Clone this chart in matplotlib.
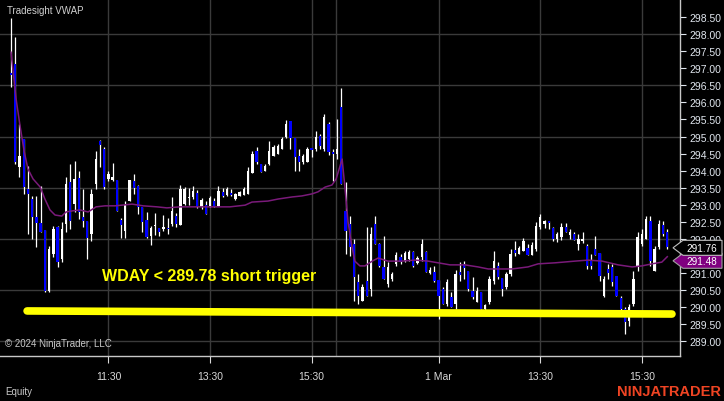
import numpy as np
import pandas as pd
import matplotlib
matplotlib.use('Agg')
import matplotlib.pyplot as plt
from matplotlib.patches import Polygon
from matplotlib.transforms import blended_transform_factory

# Velas de 5 minutos de WDAY, dos sesiones (29 Feb y 1 Mar)
dia1 = pd.date_range('2024-02-29 09:35', '2024-02-29 16:00', freq='5min')
dia2 = pd.date_range('2024-03-01 09:35', '2024-03-01 16:00', freq='5min')
tiempos = dia1.append(dia2)

apertura_d1 = [296.86, 297.12, 294.11, 294.92, 293.46, 293.17, 292.64, 292.47, 292.26, 290.47,
               291.56, 292.35, 291.41, 292.44, 293.67, 293.02, 293.79, 292.64, 292.53, 292.14,
               293.61, 294.86, 294.63, 293.76, 293.73, 293.73, 292.56, 292.23, 293.11, 293.70,
               293.55, 292.94, 292.56, 292.09, 292.38, 292.32, 292.29, 292.32, 292.44, 292.67,
               292.41, 293.02, 293.20, 293.23, 293.35, 292.94, 292.99, 292.97, 293.11, 292.97,
               293.38, 293.29, 293.35, 293.17, 293.26, 293.29, 293.32, 293.93, 294.57, 294.20,
               293.99, 294.20, 294.43, 294.49, 294.63, 294.98, 295.45, 294.95, 294.43, 294.25,
               294.25, 294.66, 294.63, 295.01, 294.63, 295.37, 294.55, 294.49]
maximo_d1 = [298.47, 297.91, 295.37, 294.92, 294.14, 293.26, 293.26, 293.55, 292.26, 291.79,
             292.38, 292.38, 292.50, 293.81, 294.20, 294.28, 293.99, 293.46, 292.53, 293.46,
             294.57, 294.89, 294.69, 293.99, 294.22, 293.73, 292.61, 293.11, 293.73, 293.90,
             293.58, 292.94, 292.79, 292.38, 292.76, 292.32, 292.70, 292.61, 293.23, 292.76,
             293.58, 293.52, 293.49, 293.55, 293.43, 293.20, 293.11, 293.26, 293.20, 293.55,
             293.49, 293.52, 293.46, 293.35, 293.40, 293.52, 294.11, 294.57, 294.69, 294.20,
             294.20, 294.86, 294.75, 294.78, 294.98, 295.48, 295.45, 294.95, 294.63, 294.49,
             294.69, 294.66, 295.16, 295.07, 295.66, 295.42, 294.63, 295.51]
minimo_d1 = [296.45, 294.20, 293.81, 293.32, 292.14, 292.00, 291.76, 292.20, 290.45, 290.45,
             291.47, 291.18, 291.32, 292.20, 292.29, 292.79, 292.58, 292.35, 291.41, 291.94,
             293.46, 294.11, 293.46, 293.70, 293.70, 292.82, 292.03, 292.03, 293.11, 293.32,
             292.73, 292.20, 292.03, 291.82, 292.12, 292.09, 292.23, 292.14, 292.38, 292.35,
             292.41, 292.99, 292.99, 293.17, 292.91, 292.88, 292.73, 292.94, 292.94, 292.97,
             293.23, 293.26, 293.26, 293.14, 293.26, 293.29, 293.32, 293.93, 294.20, 293.96,
             293.99, 294.17, 294.43, 294.49, 294.63, 294.95, 294.63, 293.99, 293.99, 294.20,
             294.25, 294.40, 294.57, 294.63, 294.57, 294.46, 293.70, 294.34]
cierre_d1 = [296.80, 294.25, 294.43, 293.52, 293.32, 292.64, 292.47, 292.20, 290.47, 291.71,
             292.29, 291.32, 292.29, 293.61, 292.53, 293.76, 292.79, 292.53, 292.03, 293.32,
             294.34, 294.75, 293.52, 293.90, 293.81, 292.82, 292.41, 292.99, 293.73, 293.49,
             292.94, 292.50, 292.06, 292.32, 292.41, 292.20, 292.35, 292.29, 292.82, 292.44,
             293.46, 293.46, 293.23, 293.40, 292.94, 293.14, 292.73, 293.20, 292.94, 293.40,
             293.26, 293.46, 293.29, 293.32, 293.38, 293.46, 293.99, 294.49, 294.25, 293.96,
             294.14, 294.57, 294.69, 294.72, 294.92, 295.37, 294.95, 294.40, 294.25, 294.43,
             294.63, 294.60, 294.98, 294.72, 295.57, 294.55, 294.49, 294.63]

apertura_d2 = [295.86, 292.82, 292.44, 291.85, 290.74, 290.18, 290.77, 290.53, 292.44, 291.85,
               291.18, 290.68, 290.83, 291.27, 291.47, 291.35, 291.41, 291.62, 291.30, 291.47,
               291.62, 291.00, 291.03, 290.80, 290.53, 290.09, 290.30, 290.09, 291.03, 291.27,
               291.06, 290.47, 290.15, 290.45, 289.95, 290.15, 290.77, 291.21, 290.86, 290.59,
               290.97, 291.68, 291.56, 291.65, 291.73, 291.53, 291.71, 292.35, 292.44, 292.53,
               292.32, 292.00, 292.06, 292.35, 292.12, 292.14, 291.85, 291.94, 291.79, 291.35,
               291.71, 291.59, 290.33, 291.12, 291.18, 290.91, 290.27, 289.95, 289.60, 290.09,
               291.18, 291.85, 292.00, 292.53, 291.06, 291.76, 292.41, 292.20]
maximo_d2 = [296.42, 293.67, 292.67, 292.00, 290.97, 290.68, 292.35, 292.35, 292.67, 291.88,
             292.09, 291.32, 291.03, 291.62, 291.56, 291.65, 291.68, 291.65, 291.50, 292.00,
             291.65, 291.18, 291.21, 290.80, 290.59, 290.83, 290.45, 291.09, 291.32, 291.35,
             291.06, 290.89, 290.59, 290.45, 290.09, 290.91, 291.65, 291.32, 290.86, 291.03,
             291.71, 291.94, 291.79, 292.03, 291.85, 291.91, 292.50, 292.73, 292.56, 292.53,
             292.35, 292.20, 292.47, 292.47, 292.29, 292.20, 292.14, 292.20, 291.85, 291.56,
             292.09, 291.59, 290.91, 291.27, 291.27, 290.91, 290.33, 290.01, 290.09, 291.06,
             292.20, 292.29, 292.67, 292.67, 291.79, 292.56, 292.53, 292.29]
minimo_d2 = [293.61, 291.56, 291.50, 290.18, 290.09, 290.18, 290.33, 290.33, 291.85, 291.18,
             290.83, 290.59, 290.77, 291.21, 291.27, 291.32, 291.35, 291.18, 291.27, 291.35,
             291.03, 290.97, 290.74, 289.65, 290.09, 290.03, 290.01, 289.95, 290.77, 290.83,
             290.47, 290.24, 290.15, 289.95, 289.92, 290.09, 290.68, 290.83, 290.33, 290.53,
             290.91, 291.50, 291.56, 291.65, 291.53, 291.53, 291.65, 292.29, 292.32, 292.29,
             291.94, 291.91, 291.97, 292.20, 292.00, 291.97, 291.68, 291.88, 291.12, 291.12,
             291.53, 290.77, 290.30, 290.83, 290.62, 290.33, 289.89, 289.21, 289.45, 290.03,
             291.06, 291.79, 292.00, 291.21, 291.06, 291.71, 292.09, 291.71]
cierre_d2 = [293.61, 292.23, 291.76, 290.89, 290.33, 290.59, 290.33, 292.14, 291.85, 291.21,
             290.83, 291.18, 290.97, 291.53, 291.32, 291.59, 291.62, 291.21, 291.44, 291.85,
             291.03, 291.09, 290.77, 290.33, 290.09, 290.74, 290.01, 290.97, 290.94, 291.15,
             290.53, 290.30, 290.47, 289.95, 290.06, 290.83, 291.35, 290.89, 290.53, 290.97,
             291.56, 291.59, 291.73, 291.94, 291.53, 291.82, 292.38, 292.64, 292.53, 292.47,
             292.00, 292.14, 292.35, 292.20, 292.20, 291.97, 292.00, 292.00, 291.21, 291.21,
             291.53, 290.91, 290.83, 291.00, 290.74, 290.33, 289.95, 289.57, 290.01, 290.83,
             292.06, 292.14, 292.58, 291.35, 291.71, 292.44, 292.14, 291.76]

# Tradesight VWAP (puntos leidos sobre la linea: posicion de barra, precio)
vwap_x = [0, 1.2, 2.1, 3.1, 4.0, 5.2, 6.9, 8.0, 9.2, 10.4, 12.0, 13.0, 14.4, 16.3, 18.2,
          20.1, 22.2, 24.6, 28.6, 31.2, 34.5, 36.8, 39.9, 44.6, 51.7, 55.3, 56.9, 60.7,
          63.1, 66.4, 68.7, 71.1, 72.5, 74.2, 75.8, 76.8, 78.2, 78.9, 79.6, 80.5, 81.2,
          82.4, 83.6, 85.3, 86.7, 89.0, 92.3, 95.4, 98.5, 100.9, 103.7, 107.2, 110.3,
          112.7, 118.3, 122.1, 124.5, 128.5, 133.2, 136.3, 139.6, 143.4, 146.7, 149.0,
          151.4, 153.7, 155.0]
vwap_y = [297.47, 296.10, 295.34, 294.57, 294.05, 293.76, 293.52, 293.17, 292.85, 292.70,
          292.67, 292.79, 292.82, 292.85, 292.79, 292.94, 292.97, 292.97, 293.02, 292.97,
          292.94, 292.91, 292.94, 292.94, 292.94, 292.99, 293.08, 293.11, 293.17, 293.23,
          293.26, 293.32, 293.38, 293.52, 293.58, 293.76, 294.34, 293.46, 292.50, 291.79,
          291.35, 291.21, 291.21, 291.35, 291.44, 291.35, 291.35, 291.38, 291.35, 291.30,
          291.24, 291.24, 291.18, 291.12, 291.12, 291.18, 291.27, 291.30, 291.35, 291.38,
          291.35, 291.24, 291.18, 291.21, 291.27, 291.32, 291.48]

# Linea de disparo dibujada a mano y su texto
gatillo_x = [3.8, 156.1]
gatillo_y = [289.89, 289.80]
texto_gatillo = 'WDAY < 289.78 short trigger'

# Marcas del eje de tiempo
marcas_tiempo = ['2024-02-29 11:30', '2024-02-29 13:30', '2024-02-29 15:30',
                 '2024-03-01 11:30', '2024-03-01 13:30', '2024-03-01 15:30']
etiquetas_x = ['11:30', '13:30', '15:30', '1 Mar', '13:30', '15:30']

apertura = np.array(apertura_d1 + apertura_d2)
maximo = np.array(maximo_d1 + maximo_d2)
minimo = np.array(minimo_d1 + minimo_d2)
cierre = np.array(cierre_d1 + cierre_d2)
x = np.arange(len(tiempos))

plt.rcParams['font.family'] = ['Liberation Sans', 'DejaVu Sans']

fig = plt.figure(figsize=(7.24, 4.02), dpi=100, facecolor='black')
ax = fig.add_axes([0, 45 / 402, 680 / 724, 357 / 402], facecolor='black')

# Rejilla
color_rejilla = '#3a3a3a'
for v in np.arange(289.0, 299.0, 1.5):
    ax.axhline(v, color=color_rejilla, lw=1, zorder=0)
pos_x = [tiempos.get_loc(pd.Timestamp(t)) for t in marcas_tiempo]
for p in pos_x + [len(dia1) - 1.2]:
    ax.axvline(p, color=color_rejilla, lw=1, zorder=0)

# Velas: mecha blanca, cuerpo blanco (sube) o azul (baja)
ax.vlines(x, minimo, maximo, color='white', lw=0.9, zorder=2)
sube = cierre >= apertura
colores = np.where(sube, 'white', '#0000ff')
base = np.minimum(apertura, cierre)
alto = np.maximum(np.abs(cierre - apertura), 0.03)
ax.bar(x, alto, bottom=base, width=0.55, color=colores, lw=0, zorder=3)

# VWAP
ax.plot(vwap_x, vwap_y, color='#7a1a7a', lw=1.1, zorder=4)

# Linea amarilla y texto
ax.plot(gatillo_x, gatillo_y, color='#ffff00', lw=5.5, solid_capstyle='round', zorder=5)
ax.text(21.5, 290.94, texto_gatillo, color='#ffff00', fontsize=11.5, fontweight='bold',
        va='center', ha='left', zorder=6)

ax.set_xlim(-2.6, 158.0)
ax.set_ylim(288.57, 299.03)

# Ejes
color_eje = '#c8c8c8'
for lado in ['top', 'left']:
    ax.spines[lado].set_visible(False)
for lado in ['right', 'bottom']:
    ax.spines[lado].set_color(color_eje)
    ax.spines[lado].set_linewidth(1)
ax.yaxis.tick_right()
niveles = np.arange(289.0, 298.51, 0.5)
ax.set_yticks(niveles)
# la etiqueta 291.50 queda tapada por la del VWAP, igual que en la plataforma
ax.set_yticklabels(['' if abs(v - 291.5) < 0.01 else f'{v:.2f}' for v in niveles])
ax.set_xticks(pos_x)
ax.set_xticklabels(etiquetas_x)
ax.tick_params(axis='y', colors='#e0e6ee', labelsize=7.5, length=4, pad=3)
ax.tick_params(axis='x', colors='#d8d8d8', labelsize=7.5, length=5, pad=6)

# Etiquetas de precio en el eje derecho (la del VWAP se desplaza un poco hacia abajo
# para no tapar la del ultimo precio, como hace la plataforma)
tr = blended_transform_factory(fig.transFigure, ax.transData)
h = 0.22
for valor, centro, fondo, borde in [(vwap_y[-1], vwap_y[-1] - 0.12, '#800080', '#a0a0a0'),
                                    (cierre[-1], cierre[-1] - 0.02, 'black', '#c0c0c0')]:
    pts = [(673 / 724, centro), (683 / 724, centro + h), (722 / 724, centro + h),
           (722 / 724, centro - h), (683 / 724, centro - h)]
    ax.add_patch(Polygon(pts, closed=True, transform=tr, facecolor=fondo, edgecolor=borde,
                         lw=0.8, clip_on=False, zorder=10))
    ax.text(686 / 724, centro, f'{valor:.2f}', transform=tr, color='white', fontsize=7.2,
            va='center', ha='left', clip_on=False, zorder=11)

# Textos de la plataforma
fig.text(7 / 724, 1 - 11 / 402, 'Tradesight VWAP', color='#d0d0d0', fontsize=7, va='center')
fig.text(5 / 724, 1 - 344 / 402, '\u00a9 2024 NinjaTrader, LLC', color='#c8c8c8', fontsize=7,
         va='center')
fig.text(5 / 724, 1 - 392 / 402, 'Equity', color='#c8c8c8', fontsize=7, va='center')
fig.text(721 / 724, 1 - 392 / 402, 'NINJATRADER', color='#ef4423', fontsize=10.5,
         fontweight='bold', va='center', ha='right')

fig.savefig('out.png', dpi=100, facecolor='black')
